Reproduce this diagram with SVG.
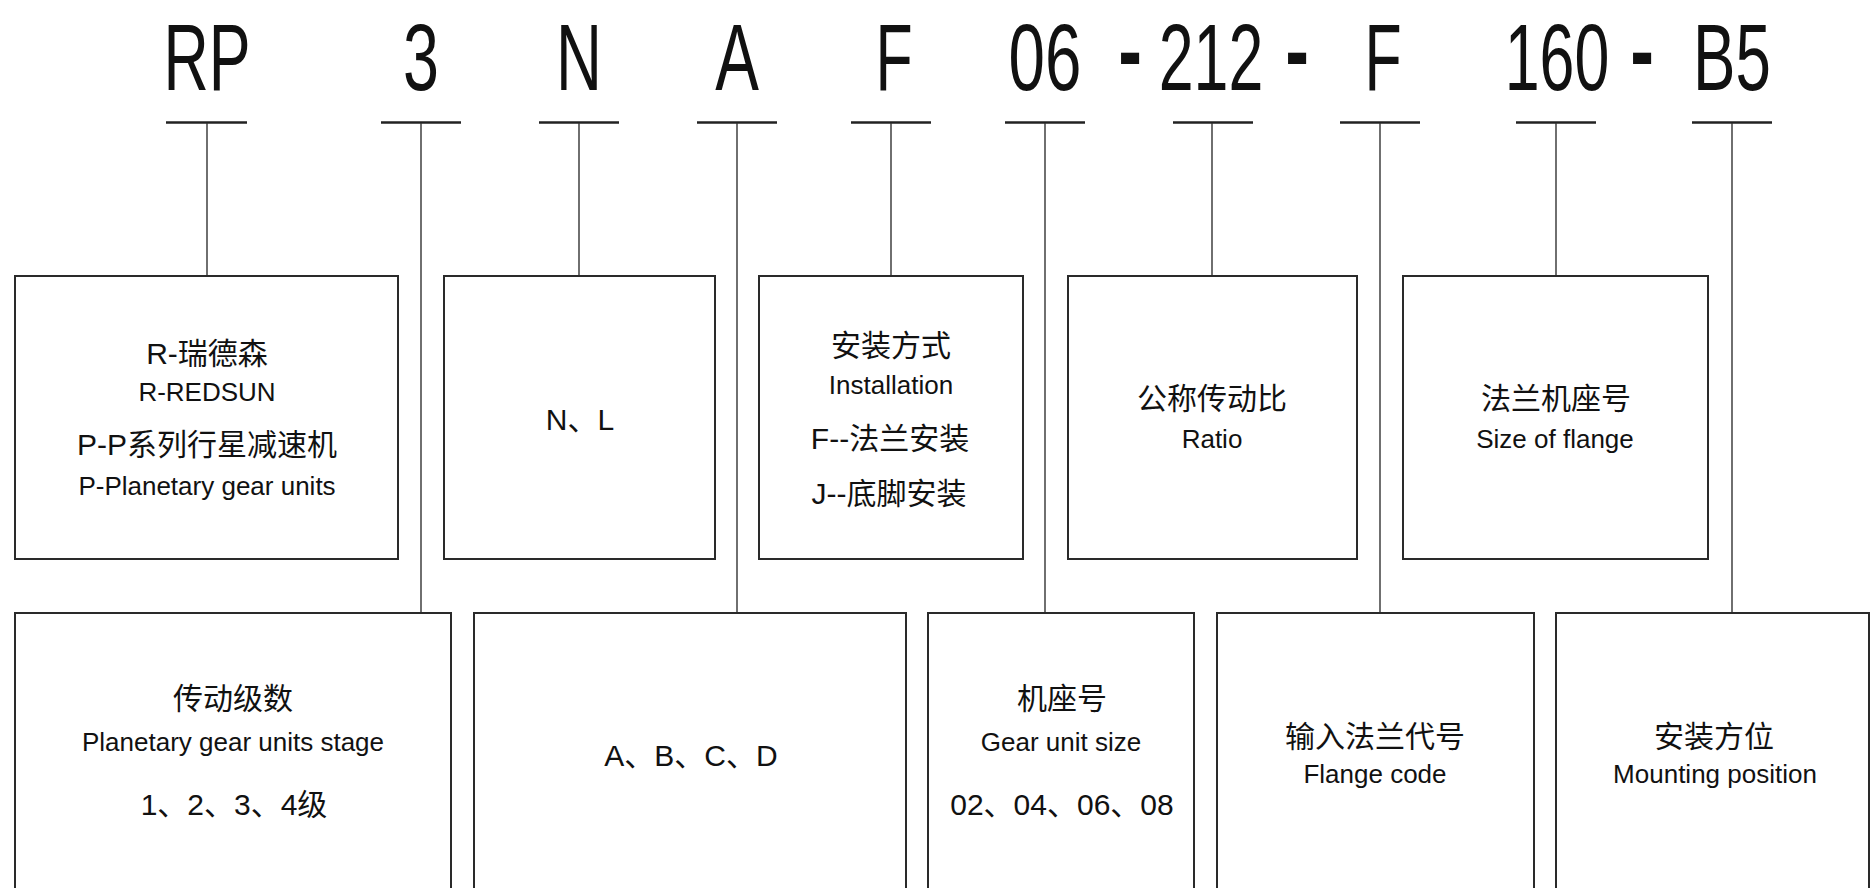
<svg xmlns="http://www.w3.org/2000/svg" width="1873" height="888" viewBox="0 0 1873 888">
<style>
text{font-family:"Liberation Sans","Noto Sans CJK SC",sans-serif;fill:#111;text-anchor:middle}
.code{font-size:95px}
.dash{font-size:95px;font-weight:bold}
.zh{font-size:30px}
.en{font-size:26px}
.box{fill:#fff;stroke:#2a2a2a;stroke-width:2}
.bar{stroke:#222;stroke-width:2.5}
.stem{stroke:#333;stroke-width:1.4}
</style>
<rect width="1873" height="888" fill="#fff"/>
<g id="codes">
<text id="c-rp" class="code" transform="translate(207,90) scale(0.66,1)">RP</text>
<text id="c-3" class="code" transform="translate(421,90) scale(0.68,1)">3</text>
<text id="c-n" class="code" transform="translate(579,90) scale(0.67,1)">N</text>
<text id="c-a" class="code" transform="translate(737,90) scale(0.69,1)">A</text>
<text id="c-f1" class="code" transform="translate(894,90) scale(0.64,1)">F</text>
<text id="c-06" class="code" transform="translate(1045,90) scale(0.69,1)">06</text>
<text id="d1" class="dash" transform="translate(1130,83) scale(0.75,1)">-</text>
<text id="c-212" class="code" transform="translate(1211,90) scale(0.66,1)">212</text>
<text id="d2" class="dash" transform="translate(1297,83) scale(0.75,1)">-</text>
<text id="c-f2" class="code" transform="translate(1383,90) scale(0.64,1)">F</text>
<text id="c-160" class="code" transform="translate(1557,90) scale(0.66,1)">160</text>
<text id="d3" class="dash" transform="translate(1642,83) scale(0.75,1)">-</text>
<text id="c-b5" class="code" transform="translate(1732,90) scale(0.67,1)">B5</text>
</g>
<g id="connectors">
<line class="bar" x1="166" y1="122.5" x2="247" y2="122.5"/>
<line class="bar" x1="381" y1="122.5" x2="461" y2="122.5"/>
<line class="bar" x1="539" y1="122.5" x2="619" y2="122.5"/>
<line class="bar" x1="697" y1="122.5" x2="777" y2="122.5"/>
<line class="bar" x1="851" y1="122.5" x2="931" y2="122.5"/>
<line class="bar" x1="1005" y1="122.5" x2="1085" y2="122.5"/>
<line class="bar" x1="1173" y1="122.5" x2="1253" y2="122.5"/>
<line class="bar" x1="1340" y1="122.5" x2="1420" y2="122.5"/>
<line class="bar" x1="1516" y1="122.5" x2="1596" y2="122.5"/>
<line class="bar" x1="1692" y1="122.5" x2="1772" y2="122.5"/>
<line class="stem" x1="207" y1="123" x2="207" y2="276"/>
<line class="stem" x1="421" y1="123" x2="421" y2="613"/>
<line class="stem" x1="579" y1="123" x2="579" y2="276"/>
<line class="stem" x1="737" y1="123" x2="737" y2="613"/>
<line class="stem" x1="891" y1="123" x2="891" y2="276"/>
<line class="stem" x1="1045" y1="123" x2="1045" y2="613"/>
<line class="stem" x1="1212" y1="123" x2="1212" y2="276"/>
<line class="stem" x1="1380" y1="123" x2="1380" y2="613"/>
<line class="stem" x1="1556" y1="123" x2="1556" y2="276"/>
<line class="stem" x1="1732" y1="123" x2="1732" y2="613"/>
</g>
<g id="n-brand">
<rect class="box" x="15" y="276" width="383" height="283"/>
<text class="zh" x="207" y="364">R-瑞德森</text>
<text class="en" x="207" y="401">R-REDSUN</text>
<text class="zh" x="207" y="455">P-P系列行星减速机</text>
<text class="en" x="207" y="495">P-Planetary gear units</text>
</g>
<g id="n-nl">
<rect class="box" x="444" y="276" width="271" height="283"/>
<text class="zh" x="580" y="430">N、L</text>
</g>
<g id="n-install">
<rect class="box" x="759" y="276" width="264" height="283"/>
<text class="zh" x="891" y="356">安装方式</text>
<text class="en" x="891" y="394">Installation</text>
<text class="zh" x="890" y="449">F--法兰安装</text>
<text class="zh" x="889" y="504">J--底脚安装</text>
</g>
<g id="n-ratio">
<rect class="box" x="1068" y="276" width="289" height="283"/>
<text class="zh" x="1212" y="409">公称传动比</text>
<text class="en" x="1212" y="448">Ratio</text>
</g>
<g id="n-flangesize">
<rect class="box" x="1403" y="276" width="305" height="283"/>
<text class="zh" x="1556" y="409">法兰机座号</text>
<text class="en" x="1555" y="448">Size of flange</text>
</g>
<g id="n-stage">
<rect class="box" x="15" y="613" width="436" height="300"/>
<text class="zh" x="233" y="709">传动级数</text>
<text class="en" x="233" y="751">Planetary gear units stage</text>
<text class="zh" x="234" y="815">1、2、3、4级</text>
</g>
<g id="n-abcd">
<rect class="box" x="474" y="613" width="432" height="300"/>
<text class="zh" x="691" y="766">A、B、C、D</text>
</g>
<g id="n-size">
<rect class="box" x="928" y="613" width="266" height="300"/>
<text class="zh" x="1062" y="709">机座号</text>
<text class="en" x="1061" y="751">Gear unit size</text>
<text class="zh" x="1062" y="815">02、04、06、08</text>
</g>
<g id="n-flangecode">
<rect class="box" x="1217" y="613" width="317" height="300"/>
<text class="zh" x="1375" y="747">输入法兰代号</text>
<text class="en" x="1375" y="783">Flange code</text>
</g>
<g id="n-mounting">
<rect class="box" x="1556" y="613" width="313" height="300"/>
<text class="zh" x="1714" y="747">安装方位</text>
<text class="en" x="1715" y="783">Mounting position</text>
</g>
</svg>
